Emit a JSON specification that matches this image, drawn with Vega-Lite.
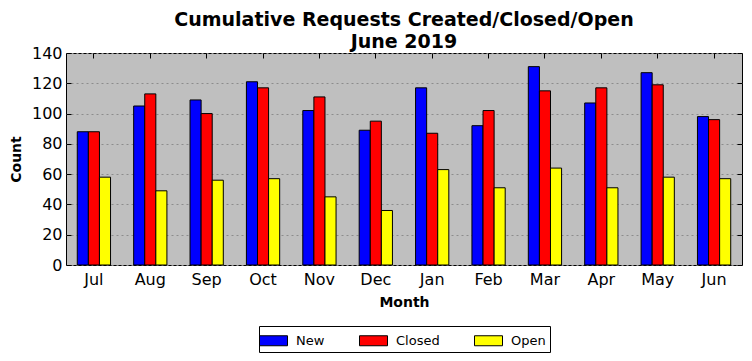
{
  "$schema": "https://vega.github.io/schema/vega-lite/v6.json",
  "autosize": "none",
  "width": 676,
  "height": 212,
  "padding": {"left": 66, "right": 10, "top": 53, "bottom": 96},
  "background": "white",
  "title": {
    "text": ["Cumulative Requests Created/Closed/Open", "June 2019"],
    "font": "DejaVu Sans",
    "fontSize": 19,
    "fontWeight": "bold",
    "color": "black",
    "lineHeight": 22,
    "offset": -7
  },
  "data": {
    "values": [
      {"month": "Jul", "type": "New", "count": 88},
      {"month": "Jul", "type": "Closed", "count": 88},
      {"month": "Jul", "type": "Open", "count": 58},
      {"month": "Aug", "type": "New", "count": 105},
      {"month": "Aug", "type": "Closed", "count": 113},
      {"month": "Aug", "type": "Open", "count": 49},
      {"month": "Sep", "type": "New", "count": 109},
      {"month": "Sep", "type": "Closed", "count": 100},
      {"month": "Sep", "type": "Open", "count": 56},
      {"month": "Oct", "type": "New", "count": 121},
      {"month": "Oct", "type": "Closed", "count": 117},
      {"month": "Oct", "type": "Open", "count": 57},
      {"month": "Nov", "type": "New", "count": 102},
      {"month": "Nov", "type": "Closed", "count": 111},
      {"month": "Nov", "type": "Open", "count": 45},
      {"month": "Dec", "type": "New", "count": 89},
      {"month": "Dec", "type": "Closed", "count": 95},
      {"month": "Dec", "type": "Open", "count": 36},
      {"month": "Jan", "type": "New", "count": 117},
      {"month": "Jan", "type": "Closed", "count": 87},
      {"month": "Jan", "type": "Open", "count": 63},
      {"month": "Feb", "type": "New", "count": 92},
      {"month": "Feb", "type": "Closed", "count": 102},
      {"month": "Feb", "type": "Open", "count": 51},
      {"month": "Mar", "type": "New", "count": 131},
      {"month": "Mar", "type": "Closed", "count": 115},
      {"month": "Mar", "type": "Open", "count": 64},
      {"month": "Apr", "type": "New", "count": 107},
      {"month": "Apr", "type": "Closed", "count": 117},
      {"month": "Apr", "type": "Open", "count": 51},
      {"month": "May", "type": "New", "count": 127},
      {"month": "May", "type": "Closed", "count": 119},
      {"month": "May", "type": "Open", "count": 58},
      {"month": "Jun", "type": "New", "count": 98},
      {"month": "Jun", "type": "Closed", "count": 96},
      {"month": "Jun", "type": "Open", "count": 57}
    ]
  },
  "encoding": {
    "xOffset": {
      "field": "type",
      "type": "nominal",
      "sort": ["New", "Closed", "Open"],
      "scale": {"paddingInner": 0, "paddingOuter": 0}
    }
  },
  "layer": [
    {
      "mark": {"type": "bar", "stroke": "black", "strokeWidth": 1},
      "encoding": {
        "x": {
          "field": "month",
          "type": "nominal",
          "sort": ["Jul","Aug","Sep","Oct","Nov","Dec","Jan","Feb","Mar","Apr","May","Jun"],
          "scale": {"paddingInner": 0.41, "paddingOuter": 0.2},
          "axis": {
            "orient": "bottom",
            "offset": -5,
            "title": "Month",
            "titleFont": "DejaVu Sans",
            "titleFontSize": 14,
            "titleFontWeight": "bold",
            "titleColor": "black",
            "titlePadding": 8,
            "labelAngle": 0,
            "labelFont": "DejaVu Sans",
            "labelFontSize": 16,
            "labelColor": "black",
            "labelPadding": 6,
            "domain": false,
            "ticks": true,
            "tickSize": 5,
            "tickColor": "black",
            "tickBand": "center",
            "grid": false
          }
        },
        "y": {
          "field": "count",
          "type": "quantitative",
          "scale": {"domain": [0, 140], "nice": false},
          "axis": {
            "orient": "left",
            "offset": -5,
            "values": [0, 20, 40, 60, 80, 100, 120, 140],
            "title": "Count",
            "titleFont": "DejaVu Sans",
            "titleFontSize": 14,
            "titleFontWeight": "bold",
            "titleColor": "black",
            "titlePadding": 8,
            "labelFont": "DejaVu Sans",
            "labelFontSize": 16,
            "labelColor": "black",
            "labelPadding": 4,
            "domain": false,
            "tickSize": 5,
            "tickColor": "black",
            "grid": true,
            "gridColor": "#8c8c8c",
            "gridDash": [2, 3],
            "gridWidth": 1
          }
        },
        "color": {
          "field": "type",
          "type": "nominal",
          "sort": ["New", "Closed", "Open"],
          "scale": {"domain": ["New", "Closed", "Open"], "range": ["#0000ff", "#ff0000", "#ffff00"]},
          "legend": {
            "title": null,
            "orient": "none",
            "legendX": 193,
            "legendY": 273,
            "direction": "horizontal",
            "symbolType": "M-1.4,-0.5H1.4V0.5H-1.4Z",
            "symbolSize": 400,
            "symbolStrokeColor": "black",
            "symbolStrokeWidth": 1,
            "symbolOpacity": 1,
            "labelFont": "DejaVu Sans",
            "labelFontSize": 13,
            "labelColor": "black",
            "labelOffset": 12,
            "columnPadding": 32,
            "strokeColor": "black",
            "fillColor": "white",
            "padding": 4
          }
        }
      }
    },
    {
      "mark": {"type": "bar", "opacity": 0},
      "encoding": {
        "x": {
          "field": "month",
          "type": "nominal",
          "sort": ["Jul","Aug","Sep","Oct","Nov","Dec","Jan","Feb","Mar","Apr","May","Jun"],
          "axis": {
            "orient": "top",
            "offset": -5,
            "title": null,
            "labels": false,
            "domain": false,
            "tickSize": 5,
            "tickColor": "black",
            "tickBand": "center",
            "grid": false
          }
        },
        "y": {
          "field": "count",
          "type": "quantitative",
          "axis": {
            "orient": "right",
            "offset": -5,
            "values": [0, 20, 40, 60, 80, 100, 120, 140],
            "title": null,
            "labels": false,
            "domain": false,
            "tickSize": 5,
            "tickColor": "black",
            "grid": false
          }
        }
      }
    }
  ],
  "resolve": {"axis": {"x": "independent", "y": "independent"}},
  "config": {
    "view": {"fill": "#bfbfbf", "stroke": "black", "strokeWidth": 1}
  }
}
